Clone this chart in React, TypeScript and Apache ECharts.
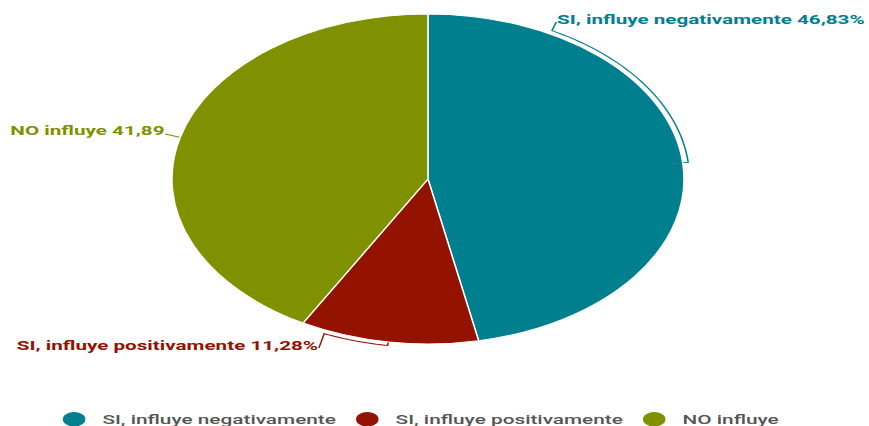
import React, { useEffect, useRef } from "react";
import * as echarts from "echarts";

// ---- data ----
const categories = ["SI, influye negativamente", "SI, influye positivamente", "NO influye"];
const values = [46.83, 11.28, 41.89];
const valueSuffixes = ["%", "%", ""];
const colors = ["#00808f", "#941200", "#809100"];

// ---- layout (chart drawn at W px wide, then stretched horizontally) ----
const W = 560;
const H = 426;
const SX = 869 / W;
const CX = 275.8;
const CY = 179;
const R = 165;
const BRACKET_R = 168.5;
const TICK_R = 164.5;
// how far (deg) each bracket runs from the slice's middle towards its label
const bracketSpan = [-56, 14.5, 0];
const labelAnchors = [
  { x: 359, y: 19, align: "left" },
  { x: 205, y: 345, align: "right" },
  { x: 106, y: 130, align: "right" },
];
const lineEnds = [
  [358.5, 22],
  [205.5, 348],
  [106.5, 134],
];

function pt(deg: number, r: number): number[] {
  const t = (deg * Math.PI) / 180;
  return [CX + r * Math.sin(t), CY - r * Math.cos(t)];
}

function buildBrackets() {
  const total = values.reduce((a, b) => a + b, 0);
  let start = 0;
  const out: any[] = [];
  values.forEach((v, i) => {
    const span = (v / total) * 360;
    const mid = start + span / 2;
    start += span;
    const pts: number[][] = [];
    const s = bracketSpan[i];
    if (s === 0) {
      pts.push(pt(mid, R + 0.5));
    } else {
      pts.push(pt(mid, TICK_R));
      const steps = 40;
      for (let k = 0; k <= steps; k++) {
        pts.push(pt(mid + (s * k) / steps, BRACKET_R));
      }
    }
    pts.push(lineEnds[i]);
    out.push({
      type: "polyline",
      shape: { points: pts },
      style: { stroke: colors[i], lineWidth: 1, fill: null },
      silent: true,
    });
  });
  return out;
}

export default function App() {
  const ref = useRef<HTMLDivElement>(null);
  useEffect(() => {
    if (!ref.current) return;
    const chart = echarts.init(ref.current, undefined, { renderer: "svg" });
    chart.setOption({
      animation: false,
      backgroundColor: "#ffffff",
      color: colors,
      legend: {
        left: 33.5,
        top: 405,
        padding: 5,
        icon: "circle",
        itemWidth: 16.5,
        itemHeight: 16.5,
        itemGap: 11,
        data: categories,
        textStyle: {
          fontFamily: "Roboto",
          fontSize: 13.4,
          fontWeight: 500,
          color: "#555555",
          padding: [0, 0, 0, 5],
        },
      },
      graphic: buildBrackets(),
      series: [
        {
          type: "pie",
          center: [CX, CY],
          radius: [0, R],
          startAngle: 90,
          clockwise: true,
          itemStyle: { borderColor: "#ffffff", borderWidth: 1 },
          labelLine: { show: false },
          label: {
            show: true,
            position: "outside",
            overflow: "none",
            bleedMargin: 0,
            fontFamily: "Roboto",
            fontSize: 13.3,
            fontWeight: "bold",
            formatter: (p: any) =>
              `${p.name} ${values[p.dataIndex].toFixed(2).replace(".", ",")}${valueSuffixes[p.dataIndex]}`,
          },
          labelLayout: (p: any) => {
            const a = labelAnchors[p.dataIndex];
            return { x: a.x, y: a.y, align: a.align, verticalAlign: "middle" };
          },
          emphasis: { disabled: true },
          data: categories.map((name, i) => ({
            name,
            value: values[i],
            itemStyle: { color: colors[i] },
            label: { color: colors[i] },
          })),
        },
      ],
    });
    return () => chart.dispose();
  }, []);
  return (
    <div
      style={{
        position: "fixed",
        left: 0,
        top: 0,
        width: W,
        height: H,
        transform: `scaleX(${SX})`,
        transformOrigin: "0 0",
        overflow: "hidden",
      }}
    >
      <div ref={ref} style={{ width: W, height: H }} />
    </div>
  );
}
